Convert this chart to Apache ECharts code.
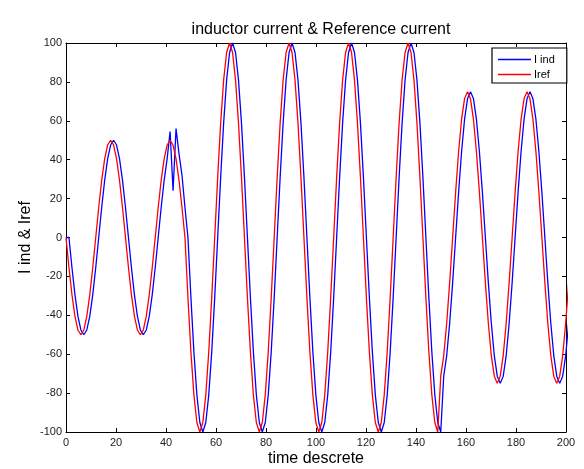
<!DOCTYPE html>
<html>
<head>
<meta charset="utf-8">
<script src="https://cdn.jsdelivr.net/npm/echarts@6/dist/echarts.min.js"></script>
<style>
html,body{margin:0;padding:0;background:#fff;}
#chart{width:584px;height:469px;}
</style>
</head>
<body>
<div id="chart"></div>
<script>
// sampling period of the discrete signals (time units per sample)
const SAMPLE_DT = 1.1897;

// Reference current Iref (one value per sample)
const irefValues = [
  0,-15.45,-29.4,-40.45,-47.55,-50,-47.55,-40.45,-29.4,-15.45,0,15.45,29.4,40.45,47.55,50,47.55,40.45,29.4,15.45,
  0,-15.45,-29.4,-40.45,-47.55,-50,-47.55,-40.45,-29.4,-15.45,0,15.45,29.4,40.45,47.55,50,47.55,40.45,29.4,15.45,
  0,-30.9,-58.8,-80.9,-95.1,-100,-95.1,-80.9,-58.8,-30.9,0,30.9,58.8,80.9,95.1,100,95.1,80.9,58.8,30.9,
  0,-30.9,-58.8,-80.9,-95.1,-100,-95.1,-80.9,-58.8,-30.9,0,30.9,58.8,80.9,95.1,100,95.1,80.9,58.8,30.9,
  0,-30.9,-58.8,-80.9,-95.1,-100,-95.1,-80.9,-58.8,-30.9,0,30.9,58.8,80.9,95.1,100,95.1,80.9,58.8,30.9,
  0,-30.9,-58.8,-80.9,-95.1,-100,-95.1,-80.9,-58.8,-30.9,0,30.9,58.8,80.9,95.1,100,95.1,80.9,58.8,30.9,
  0,-30.9,-58.8,-80.9,-95.1,-100,-71.3,-60.7,-44.1,-23.2,0,23.2,44.1,60.7,71.3,75,71.3,60.7,44.1,23.2,
  0,-23.2,-44.1,-60.7,-71.3,-75,-71.3,-60.7,-44.1,-23.2,0,23.2,44.1,60.7,71.3,75,71.3,60.7,44.1,23.2,
  0,-23.2,-44.1,-60.7,-71.3,-75,-71.3,-60.7,-44.1,-23.2
];

// Inductor current I ind (one value per sample)
const iindValues = [
  0,0,-15.45,-29.4,-40.45,-47.55,-50,-47.55,-40.45,-29.4,-15.45,0,15.45,29.4,40.45,47.55,50,47.55,40.45,29.4,
  15.45,0,-15.45,-29.4,-40.45,-47.55,-50,-47.55,-40.45,-29.4,-15.45,0,15.45,29.4,40.45,54.5,24,56,43,32,
  15.45,0,-30.9,-58.8,-80.9,-95.1,-100,-95.1,-80.9,-58.8,-30.9,0,30.9,58.8,80.9,95.1,100,95.1,80.9,58.8,
  30.9,0,-30.9,-58.8,-80.9,-95.1,-100,-95.1,-80.9,-58.8,-30.9,0,30.9,58.8,80.9,95.1,100,95.1,80.9,58.8,
  30.9,0,-30.9,-58.8,-80.9,-95.1,-100,-95.1,-80.9,-58.8,-30.9,0,30.9,58.8,80.9,95.1,100,95.1,80.9,58.8,
  30.9,0,-30.9,-58.8,-80.9,-95.1,-100,-95.1,-80.9,-58.8,-30.9,0,30.9,58.8,80.9,95.1,100,95.1,80.9,58.8,
  30.9,0,-30.9,-58.8,-80.9,-95.1,-100,-71.3,-60.7,-44.1,-23.2,0,23.2,44.1,60.7,71.3,75,71.3,60.7,44.1,
  23.2,0,-23.2,-44.1,-60.7,-71.3,-75,-71.3,-60.7,-44.1,-23.2,0,23.2,44.1,60.7,71.3,75,71.3,60.7,44.1,
  23.2,0,-23.2,-44.1,-60.7,-71.3,-75,-71.3,-60.7,-44.1
];

const seriesNames = ['I ind', 'Iref'];
const titleText = 'inductor current & Reference current';
const xName = 'time descrete';
const yName = 'I ind & Iref';

const FONT = '"Liberation Sans", Arial, Helvetica, sans-serif';

const toPairs = vals => vals.map((v, i) => [i * SAMPLE_DT, v]);

const axisCommon = {
  type: 'value',
  axisLine: { show: true, onZero: false, lineStyle: { color: '#000', width: 1 } },
  axisTick: { show: true, inside: true, length: 4, lineStyle: { color: '#000' } },
  splitLine: { show: false },
  axisLabel: { color: '#222', fontSize: 11, fontFamily: FONT }
};

const chart = echarts.init(document.getElementById('chart'), null, { renderer: 'canvas' });
chart.setOption({
  animation: false,
  backgroundColor: '#fff',
  title: {
    text: titleText,
    left: 316,
    textAlign: 'center',
    top: 17,
    textStyle: { fontFamily: FONT, fontSize: 16, fontWeight: 'normal', color: '#000' }
  },
  legend: {
    data: seriesNames,
    orient: 'vertical',
    left: 492,
    top: 48,
    icon: 'rect',
    itemWidth: 33,
    itemHeight: 1.5,
    itemGap: 4,
    padding: [6, 12, 3, 6],
    backgroundColor: '#fff',
    borderColor: '#000',
    borderWidth: 1.2,
    textStyle: { fontFamily: FONT, fontSize: 11, color: '#000', padding: [0, 0, 0, -2] }
  },
  grid: { left: 66, right: 18, top: 43, bottom: 37, outerBoundsMode: 'none', containLabel: false },
  xAxis: [
    Object.assign({}, axisCommon, {
      position: 'bottom', min: 0, max: 200, interval: 20,
      name: xName, nameLocation: 'middle', nameGap: 19, nameMoveOverlap: false,
      nameTextStyle: { fontFamily: FONT, fontSize: 16, color: '#000' },
      axisLabel: Object.assign({}, axisCommon.axisLabel, { margin: 5 })
    }),
    Object.assign({}, axisCommon, {
      position: 'top', min: 0, max: 200, interval: 20,
      axisLabel: { show: false }
    })
  ],
  yAxis: [
    Object.assign({}, axisCommon, {
      position: 'left', min: -100, max: 100, interval: 20,
      name: yName, nameLocation: 'middle', nameGap: 32, nameMoveOverlap: false,
      nameTextStyle: { fontFamily: FONT, fontSize: 16, color: '#000' },
      axisLabel: Object.assign({}, axisCommon.axisLabel, { margin: 4 })
    }),
    Object.assign({}, axisCommon, {
      position: 'right', min: -100, max: 100, interval: 20,
      axisLabel: { show: false }
    })
  ],
  series: [
    {
      name: seriesNames[0], type: 'line', data: toPairs(iindValues),
      xAxisIndex: 0, yAxisIndex: 0,
      symbol: 'none', clip: true,
      lineStyle: { color: '#0000ff', width: 1.3 },
      itemStyle: { color: '#0000ff' }
    },
    {
      name: seriesNames[1], type: 'line', data: toPairs(irefValues),
      xAxisIndex: 0, yAxisIndex: 0,
      symbol: 'none', clip: true,
      lineStyle: { color: '#ff0000', width: 1.3 },
      itemStyle: { color: '#ff0000' }
    }
  ]
});
</script>
</body>
</html>
